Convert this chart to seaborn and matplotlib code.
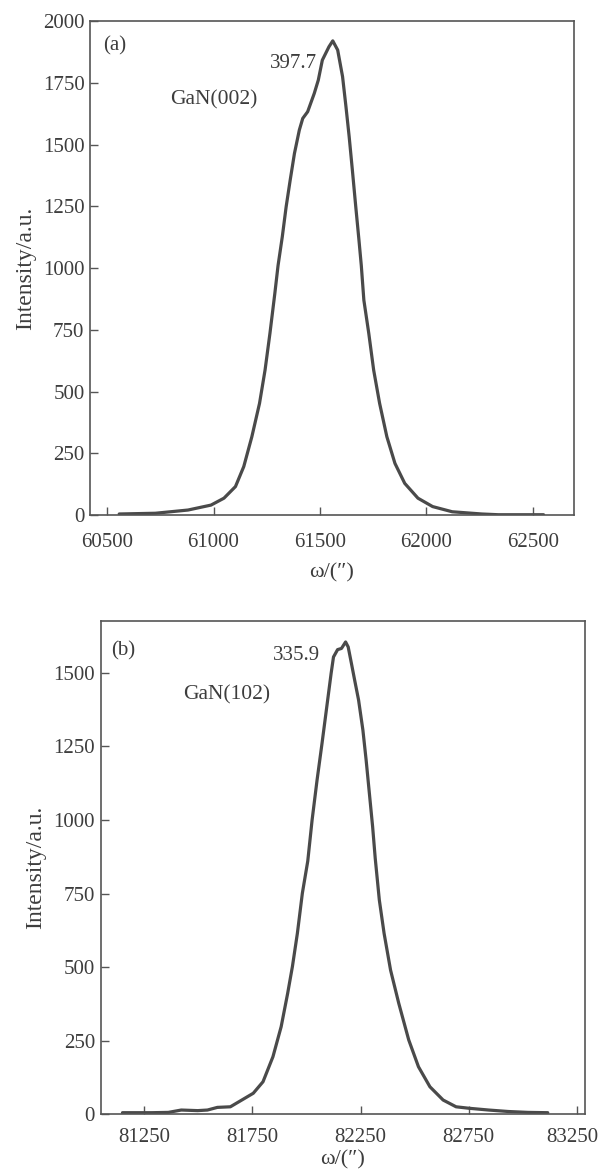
import numpy as np
import pandas as pd
import matplotlib
matplotlib.use("Agg")
import matplotlib.pyplot as plt
import matplotlib.transforms as mtransforms
import seaborn as sns

# ---- Data ----
omega_002 = [60557, 60727, 60880, 60988, 61049, 61103, 61142, 61180, 61216, 61242,
             61265, 61288, 61303, 61323, 61341, 61360, 61380, 61403, 61419, 61442,
             61473, 61492, 61511, 61542, 61560, 61583, 61606, 61622, 61637, 61652,
             61668, 61683, 61694, 61706, 61729, 61752, 61780, 61814, 61852, 61898,
             61960, 62029, 62121, 62260, 62338, 62550]
int_002 = [4, 7, 20, 40, 68, 115, 196, 317, 452, 587,
           736, 898, 1010, 1127, 1248, 1356, 1464, 1559, 1606, 1633,
           1707, 1761, 1842, 1896, 1920, 1883, 1775, 1653, 1532, 1397,
           1248, 1113, 1010, 870, 736, 587, 452, 317, 209, 128,
           68, 34, 13, 4, 1, 1]

omega_102 = [81149, 81285, 81361, 81421, 81497, 81542, 81588, 81648, 81708, 81754,
             81799, 81845, 81883, 81913, 81935, 81958, 81981, 82006, 82026, 82049,
             82072, 82094, 82114, 82125, 82144, 82162, 82181, 82193, 82208, 82223,
             82241, 82261, 82276, 82291, 82306, 82318, 82337, 82359, 82389, 82427,
             82473, 82518, 82571, 82632, 82692, 82752, 82843, 82934, 83025, 83116]
int_102 = [6, 6, 7, 15, 13, 15, 24, 26, 52, 72,
           111, 196, 298, 411, 502, 615, 751, 860, 999, 1135,
           1260, 1384, 1497, 1553, 1578, 1582, 1604, 1587, 1531, 1474,
           1407, 1305, 1203, 1090, 977, 870, 728, 615, 490, 377,
           253, 162, 94, 49, 26, 21, 15, 10, 7, 6]

xticks_a = [60500, 61000, 61500, 62000, 62500]
yticks_a = [0, 250, 500, 750, 1000, 1250, 1500, 1750, 2000]
xticks_b = [81250, 81750, 82250, 82750, 83250]
yticks_b = [0, 250, 500, 750, 1000, 1250, 1500]

panel_a = "(a)"
panel_b = "(b)"
label_a = "GaN(002)"
label_b = "GaN(102)"
fwhm_a = "397.7"
fwhm_b = "335.9"
xlabel = "ω/(″)"
ylabel = "Intensity/a.u."

# ---- Style ----
sns.set_theme(style="ticks")
plt.rcParams['font.family'] = ['Liberation Serif', 'DejaVu Serif']

text_col = "#3d3d3d"
line_col = "#4a4a4a"
spine_col = "#555555"
fs = 15

fig = plt.figure(figsize=(5.99, 11.72), dpi=100)
ax1 = fig.add_axes([0.1503, 0.5606, 0.8080, 0.4214])
ax2 = fig.add_axes([0.1680, 0.0491, 0.8078, 0.4210])

df_a = pd.DataFrame({"omega": omega_002, "I": int_002})
df_b = pd.DataFrame({"omega": omega_102, "I": int_102})

sns.lineplot(data=df_a, x="omega", y="I", ax=ax1, color=line_col, linewidth=2.3, sort=False)
sns.lineplot(data=df_b, x="omega", y="I", ax=ax2, color=line_col, linewidth=2.3, sort=False)

def style(ax, xt, yt, xlim, ylim, xpad, xlabelpad):
    ax.set_xlim(*xlim)
    ax.set_ylim(*ylim)
    ax.set_xticks(xt)
    ax.set_yticks(yt)
    ax.set_xticklabels([str(v) for v in xt])
    ax.set_yticklabels([str(v) for v in yt])
    ax.tick_params(axis="both", direction="in", length=6, width=1.0,
                   colors=spine_col, labelcolor=text_col, labelsize=fs)
    ax.tick_params(axis="x", pad=xpad)
    ax.tick_params(axis="y", pad=4)
    for s in ax.spines.values():
        s.set_color(spine_col)
        s.set_linewidth(1.2)
        s.set_visible(True)
    ax.set_xlabel(xlabel, fontsize=16, color=text_col, labelpad=xlabelpad)
    ax.set_ylabel(ylabel, fontsize=17, color=text_col, labelpad=5)

style(ax1, xticks_a, yticks_a, (60420, 62693), (0, 2000), 13, 8)
style(ax2, xticks_b, yticks_b, (81048, 83286), (0, 1675), 10, 2)

# keep the last bottom tick label inside the figure, as in the reference
last = ax2.get_xticklabels()[-1]
last.set_transform(last.get_transform() +
                   mtransforms.ScaledTranslation(-4 / 100, 0, fig.dpi_scale_trans))

ax1.text(60481, 1899, panel_a, fontsize=fs, color=text_col, ha="left", va="center")
ax1.text(60795, 1680, label_a, fontsize=15.5, color=text_col, ha="left", va="center")
ax1.text(61485, 1829, fwhm_a, fontsize=fs, color=text_col, ha="right", va="center")

ax2.text(81096, 1574, panel_b, fontsize=fs, color=text_col, ha="left", va="center")
ax2.text(81431, 1425, label_b, fontsize=15.5, color=text_col, ha="left", va="center")
ax2.text(82063, 1559, fwhm_b, fontsize=fs, color=text_col, ha="right", va="center")

fig.savefig("out.png", dpi=100)
